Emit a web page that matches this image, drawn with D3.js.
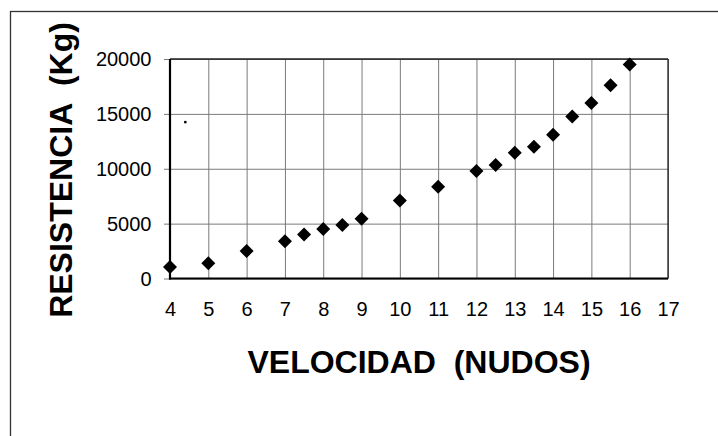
<!DOCTYPE html>
<html>
<head>
<meta charset="utf-8">
<script src="https://cdn.jsdelivr.net/npm/d3@7"></script>
<style>
  html, body { margin: 0; padding: 0; background: #fff; }
  svg { display: block; }
  text { font-family: "Liberation Sans", Arial, sans-serif; fill: #000; }
</style>
</head>
<body>
<script>
// Velocidad (nudos) vs. resistencia (kg)
const velocidad = [4, 5, 6, 7, 7.5, 8, 8.5, 9, 10, 11, 12, 12.5, 13, 13.5, 14, 14.5, 15, 15.5, 16];
const resistencia = [1050, 1400, 2500, 3400, 4000, 4500, 4880, 5450, 7100, 8350, 9800, 10350, 11450, 12000, 13100, 14750, 16000, 17600, 19500];
// single isolated small point inside the plot
const puntoSuelto = [{ x: 4.4, y: 14250 }];
const xTicks = [4, 5, 6, 7, 8, 9, 10, 11, 12, 13, 14, 15, 16, 17];
const yTicks = [0, 5000, 10000, 15000, 20000];
const xTitle = "VELOCIDAD  (NUDOS)";
const yTitle = "RESISTENCIA  (Kg)";

const W = 718, H = 436;
const plot = { left: 170, right: 668, top: 59, bottom: 278.5 };

const svg = d3.select("body").append("svg").attr("width", W).attr("height", H);

// outer chart frame
svg.append("rect")
  .attr("x", 10.5).attr("y", 11.5)
  .attr("width", 740).attr("height", 460)
  .attr("fill", "none").attr("stroke", "#333").attr("stroke-width", 1.3);

const x = d3.scaleLinear().domain([4, 17]).range([plot.left, plot.right]);
const y = d3.scaleLinear().domain([0, 20000]).range([plot.bottom, plot.top]);

// horizontal gridlines with outward ticks
const yAxis = d3.axisLeft(y).tickValues(yTicks)
  .tickSize(-(plot.right - plot.left)).tickSizeOuter(0).tickPadding(18.5).tickFormat(d3.format("d"));
const gy = svg.append("g").attr("transform", `translate(${plot.left},0)`).call(yAxis);
gy.select(".domain").remove();
gy.selectAll(".tick line").attr("stroke", "#7a7a7a").attr("stroke-width", 1)
  .attr("x1", -6);
gy.selectAll(".tick text").attr("font-size", 20).attr("dy", "0.34em")
  .attr("font-family", "Liberation Sans, Arial, sans-serif");

// vertical gridlines and bottom labels
const xAxis = d3.axisBottom(x).tickValues(xTicks)
  .tickSize(-(plot.bottom - plot.top)).tickSizeOuter(0).tickPadding(23).tickFormat(d3.format("d"));
const gx = svg.append("g").attr("transform", `translate(0,${plot.bottom})`).call(xAxis);
gx.select(".domain").remove();
gx.selectAll(".tick line").attr("stroke", "#7a7a7a").attr("stroke-width", 1);
gx.selectAll(".tick text").attr("font-size", 20).attr("dy", "0.71em")
  .attr("font-family", "Liberation Sans, Arial, sans-serif");

// plot frame: thin top/right, heavy left/bottom axes
svg.append("line").attr("x1", x(4)).attr("x2", x(17)).attr("y1", y(20000)).attr("y2", y(20000))
  .attr("stroke", "#222").attr("stroke-width", 1.3);
svg.append("line").attr("x1", x(17)).attr("x2", x(17)).attr("y1", y(20000)).attr("y2", y(0))
  .attr("stroke", "#222").attr("stroke-width", 1.3);
svg.append("line").attr("x1", x(4)).attr("x2", x(4)).attr("y1", y(20000)).attr("y2", y(0) + 1)
  .attr("stroke", "#000").attr("stroke-width", 2.2);
svg.append("line").attr("x1", x(4) - 1).attr("x2", x(17)).attr("y1", y(0)).attr("y2", y(0))
  .attr("stroke", "#000").attr("stroke-width", 2);

// diamond markers
const diamond = d3.symbol().type(d3.symbolSquare).size(98);
svg.append("g").selectAll("path")
  .data(velocidad.map((v, i) => ({ x: v, y: resistencia[i] })))
  .join("path")
  .attr("d", diamond)
  .attr("transform", d => `translate(${x(d.x)},${y(d.y)}) rotate(45)`)
  .attr("fill", "#000");

svg.append("g").selectAll("rect")
  .data(puntoSuelto)
  .join("rect")
  .attr("x", d => x(d.x) - 1.2).attr("y", d => y(d.y) - 1.2)
  .attr("width", 2.4).attr("height", 2.4)
  .attr("fill", "#000");

// axis titles
svg.append("text")
  .attr("x", (plot.left + plot.right) / 2).attr("y", 373)
  .attr("text-anchor", "middle")
  .attr("font-size", 32).attr("font-weight", "bold")
  .style("white-space", "pre")
  .text(xTitle);

svg.append("text")
  .attr("transform", `translate(72,170) rotate(-90)`)
  .attr("text-anchor", "middle")
  .attr("font-size", 32).attr("font-weight", "bold")
  .style("white-space", "pre")
  .text(yTitle);
</script>
</body>
</html>
